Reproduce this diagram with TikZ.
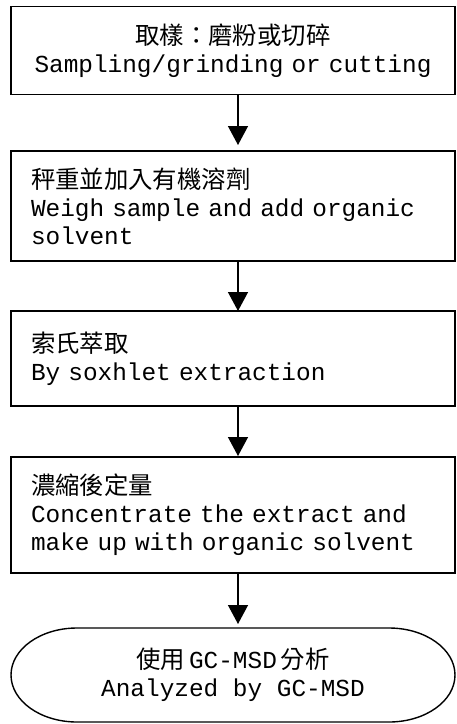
\documentclass[tikz,border=0pt]{standalone}
\usepackage{fontspec}
\setmainfont{Liberation Mono}[WordSpace={1,0,0}]
\newfontfamily\cjk{Noto Sans CJK TC}
\usetikzlibrary{arrows.meta}

\begin{document}
\begin{tikzpicture}[x=1pt, y=1pt]
    % Define styles
    \tikzset{
        stepbox/.style={
            draw,
            line width=1.4pt,
            minimum width=444pt,
            text width=404pt,
            inner xsep=20pt,
            outer sep=0pt,
            align=left,
            font=\fontsize{24.4}{28}\selectfont
        },
        endbox/.style={
            minimum width=312pt,
            minimum height=94pt,
            outer sep=0pt,
            align=center,
            font=\fontsize{24.4}{28}\selectfont
        },
        arrow/.style={
            -{Triangle[width=20pt, length=19pt]},
            line width=1.4pt
        }
    }

    \useasboundingbox (0,0) rectangle (457,-724);

    % Steps
    \node[stepbox, align=center, minimum height=88pt] (sampling) at (233,-50.5) {{\cjk 取樣：磨粉或切碎}\\\mbox{Sampling/grinding or cutting}};
    \node[stepbox, minimum height=110pt] (weigh) at (233,-206) {{\cjk 秤重並加入有機溶劑}\\\mbox{Weigh sample and add organic}\\solvent};
    \node[stepbox, minimum height=95pt] (soxhlet) at (233,-358.5) {{\cjk 索氏萃取}\\By soxhlet extraction};
    \node[stepbox, minimum height=116pt] (concentrate) at (233,-515) {{\cjk 濃縮後定量}\\\mbox{Concentrate the extract and}\\\mbox{make up with organic solvent}};

    % Terminal
    \node[endbox] (analysis) at (233,-675) {{\cjk 使用}\,GC-MSD\,{\cjk 分析}\\Analyzed by GC-MSD};
    \draw[line width=1.4pt] (analysis.north west) -- (analysis.north east)
        arc[start angle=90, end angle=-90, x radius=66pt, y radius=47pt]
        -- (analysis.south west)
        arc[start angle=270, end angle=90, x radius=66pt, y radius=47pt] -- cycle;

    % Connect steps
    \draw[arrow, shorten >=6pt] ([xshift=5pt]sampling.south) -- ([xshift=5pt]weigh.north);
    \draw[arrow] ([xshift=5pt]weigh.south) -- ([xshift=5pt]soxhlet.north);
    \draw[arrow, shorten >=1pt] ([xshift=5pt]soxhlet.south) -- ([xshift=5pt]concentrate.north);
    \draw[arrow, shorten >=4pt] ([xshift=5pt]concentrate.south) -- ([xshift=5pt]analysis.north);

\end{tikzpicture}
\end{document}
